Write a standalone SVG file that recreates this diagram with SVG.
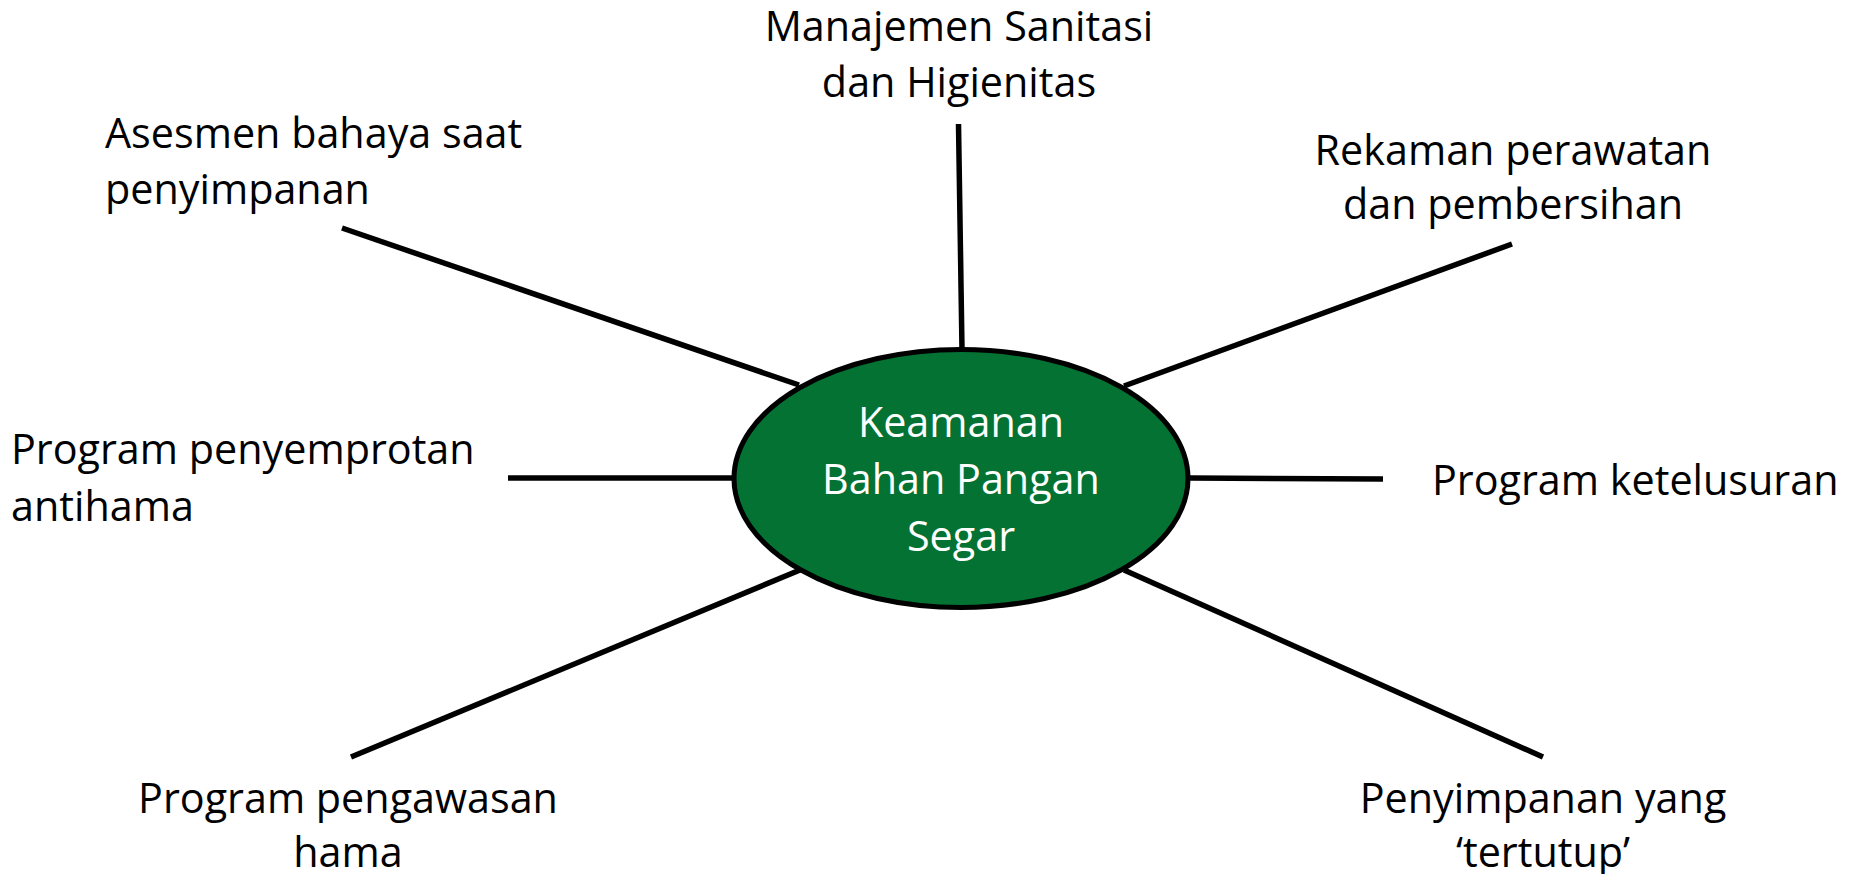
<svg xmlns="http://www.w3.org/2000/svg" width="1851" height="874" viewBox="0 0 1851 874">
<style>
.lbl{font-family:"Open Sans","Liberation Sans",sans-serif;font-size:41.3px;fill:#000}
.c{text-anchor:middle}
.hub{font-family:"Open Sans","Liberation Sans",sans-serif;font-size:41.3px;fill:#fff;text-anchor:middle}
.ln{stroke:#000;stroke-width:5.5;fill:none}
</style>
<rect width="1851" height="874" fill="#fff"/>
<g id="connectors">
<line class="ln" x1="958.5" y1="124" x2="962" y2="349"/>
<line class="ln" x1="342" y1="228" x2="799" y2="385"/>
<line class="ln" x1="1512" y1="244" x2="1124" y2="386"/>
<line class="ln" x1="508" y1="478" x2="734" y2="478"/>
<line class="ln" x1="1190" y1="478" x2="1383" y2="479"/>
<line class="ln" x1="351" y1="757" x2="800" y2="570"/>
<line class="ln" x1="1543" y1="757" x2="1124" y2="570"/>
</g>
<g id="hub">
<ellipse cx="961" cy="478.5" rx="227" ry="129" fill="#037233" stroke="#000" stroke-width="5"/>
<text class="hub" x="961" y="437">Keamanan</text>
<text class="hub" x="961" y="494">Bahan Pangan</text>
<text class="hub" x="961" y="551">Segar</text>
</g>
<g id="n-sanitasi">
<text class="lbl c" x="959" y="41">Manajemen Sanitasi</text>
<text class="lbl c" x="959" y="97">dan Higienitas</text>
</g>
<g id="n-asesmen">
<text class="lbl" x="105" y="148">Asesmen bahaya saat</text>
<text class="lbl" x="105" y="204">penyimpanan</text>
</g>
<g id="n-rekaman">
<text class="lbl c" x="1513" y="165">Rekaman perawatan</text>
<text class="lbl c" x="1513" y="219">dan pembersihan</text>
</g>
<g id="n-penyemprotan">
<text class="lbl" x="11" y="464">Program penyemprotan</text>
<text class="lbl" x="11" y="521">antihama</text>
</g>
<g id="n-ketelusuran">
<text class="lbl" x="1432" y="495">Program ketelusuran</text>
</g>
<g id="n-pengawasan">
<text class="lbl c" x="348" y="813">Program pengawasan</text>
<text class="lbl c" x="348" y="867">hama</text>
</g>
<g id="n-penyimpanan">
<text class="lbl c" x="1543" y="813">Penyimpanan yang</text>
<text class="lbl c" x="1543" y="867">‘tertutup’</text>
</g>
</svg>
